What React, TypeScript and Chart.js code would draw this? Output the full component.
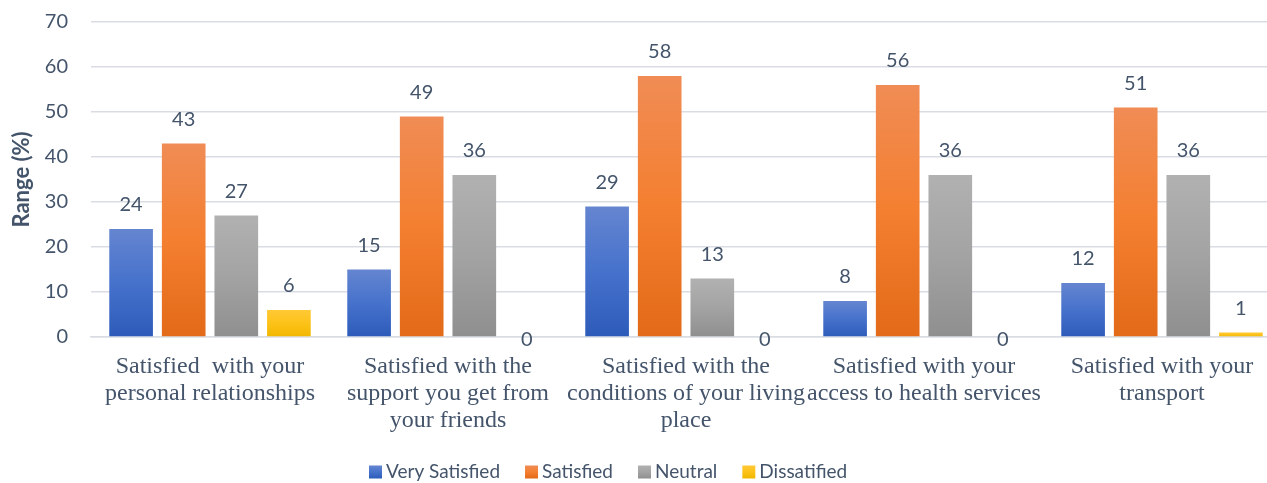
import React, { useEffect, useRef } from "react";
import { Chart, registerables } from "chart.js";

Chart.register(...registerables);

const categories: string[][] = [
  ["Satisfied  with your", "personal relationships"],
  ["Satisfied with the", "support you get from", "your friends"],
  ["Satisfied with the", "conditions of your living", "place"],
  ["Satisfied with your", "access to health services"],
  ["Satisfied with your", "transport"],
];

const seriesNames = ["Very Satisfied", "Satisfied", "Neutral", "Dissatified"];
const verySatisfied = [24, 15, 29, 8, 12];
const satisfied = [43, 49, 58, 56, 51];
const neutral = [27, 36, 13, 36, 36];
const dissatisfied = [6, 0, 0, 0, 1];

const yTicks = [0, 10, 20, 30, 40, 50, 60, 70];

const gradientStops: [string, string, string][] = [
  ["#6585d0", "#4672cc", "#2d5bb9"],
  ["#f08c55", "#f47f30", "#e26a18"],
  ["#b1b1b1", "#a3a3a3", "#8f8f8f"],
  ["#ffc936", "#fdc218", "#f0b700"],
];

const TEXT = "#44546a";

function makeGradient(c: CanvasRenderingContext2D, top: number, bottom: number, dsIndex: number) {
  const g = c.createLinearGradient(0, top, 0, bottom);
  const s = gradientStops[dsIndex];
  g.addColorStop(0, s[0]);
  g.addColorStop(0.5, s[1]);
  g.addColorStop(1, s[2]);
  return g;
}

function barFill(ctx: any, dsIndex: number) {
  const chart = ctx.chart;
  const fallback = gradientStops[dsIndex][1];
  if (!chart.chartArea || ctx.type !== "data") return fallback;
  const y = chart.scales.y;
  const top = y.getPixelForValue(ctx.raw as number);
  const bottom = y.getPixelForValue(0);
  if (!isFinite(top) || !isFinite(bottom) || bottom - top < 1) return fallback;
  return makeGradient(chart.ctx, top, bottom, dsIndex);
}

const dataLabelPlugin = {
  id: "dataLabels",
  afterDatasetsDraw(chart: any) {
    const c = chart.ctx;
    c.save();
    c.font = "20px Lato";
    c.fillStyle = TEXT;
    c.textAlign = "center";
    c.textBaseline = "middle";
    chart.data.datasets.forEach((ds: any, i: number) => {
      const meta = chart.getDatasetMeta(i);
      meta.data.forEach((bar: any, j: number) => {
        const v = ds.data[j];
        const yy = v === 0 ? bar.y + 3 : bar.y - 24;
        c.fillText(String(v), bar.x, yy);
      });
    });
    c.restore();
  },
};

const legendPlugin = {
  id: "bottomLegend",
  afterDraw(chart: any) {
    const c = chart.ctx;
    c.save();
    c.font = "19px Lato";
    c.textBaseline = "middle";
    c.textAlign = "left";
    const box = 13;
    const cy = 472;
    let x = 369;
    seriesNames.forEach((n, i) => {
      c.fillStyle = makeGradient(c, cy - box / 2, cy + box / 2, i);
      c.fillRect(x, cy - box / 2, box, box);
      c.fillStyle = TEXT;
      const tx = x + box + 4;
      c.fillText(n, tx, cy);
      x = tx + c.measureText(n).width + 25;
    });
    c.restore();
  },
};

export default function App() {
  const ref = useRef<HTMLCanvasElement | null>(null);
  useEffect(() => {
    if (!ref.current) return;
    const allSeries = [verySatisfied, satisfied, neutral, dissatisfied];
    const chart = new Chart(ref.current, {
      type: "bar",
      data: {
        labels: categories,
        datasets: allSeries.map((d, i) => ({
          label: seriesNames[i],
          data: d,
          backgroundColor: (ctx: any) => barFill(ctx, i),
          borderWidth: 0,
          categoryPercentage: 0.884,
          barPercentage: 0.83,
        })),
      },
      options: {
        animation: false,
        responsive: false,
        maintainAspectRatio: false,
        layout: { padding: { top: 0, right: 0, left: 0, bottom: 41 } },
        plugins: {
          tooltip: { enabled: false },
          legend: { display: false },
        },
        scales: {
          x: {
            grid: { display: false },
            border: { display: true, color: "#d9dde3", width: 1.5 },
            ticks: {
              color: TEXT,
              font: { family: "Liberation Serif", size: 24, lineHeight: 1.125 },
              padding: 8,
              maxRotation: 0,
              autoSkip: false,
            },
          },
          y: {
            min: 0,
            max: 70,
            afterFit: (s: any) => {
              s.width = 91;
              s.paddingTop = 22;
              s.paddingBottom = 0;
            },
            afterBuildTicks: (s: any) => {
              s.ticks = yTicks.map((v) => ({ value: v }));
            },
            grid: { color: "#d9dde3", lineWidth: 1.5, drawTicks: false },
            border: { display: false },
            ticks: {
              color: TEXT,
              font: { family: "Lato", size: 20 },
              padding: 23,
            },
            title: {
              display: true,
              text: "Range (%)",
              color: TEXT,
              font: { family: "Lato", size: 22, weight: "bold" },
              padding: { top: 9, bottom: 0 },
            },
          },
        },
      },
      plugins: [dataLabelPlugin, legendPlugin],
    } as any);
    return () => chart.destroy();
  }, []);
  return (
    <div
      style={{
        position: "fixed",
        left: 0,
        top: 0,
        width: 1267,
        height: 483,
        overflow: "hidden",
        background: "#fff",
      }}
    >
      <canvas ref={ref} width={1281} height={483} style={{ display: "block" }} />
    </div>
  );
}
